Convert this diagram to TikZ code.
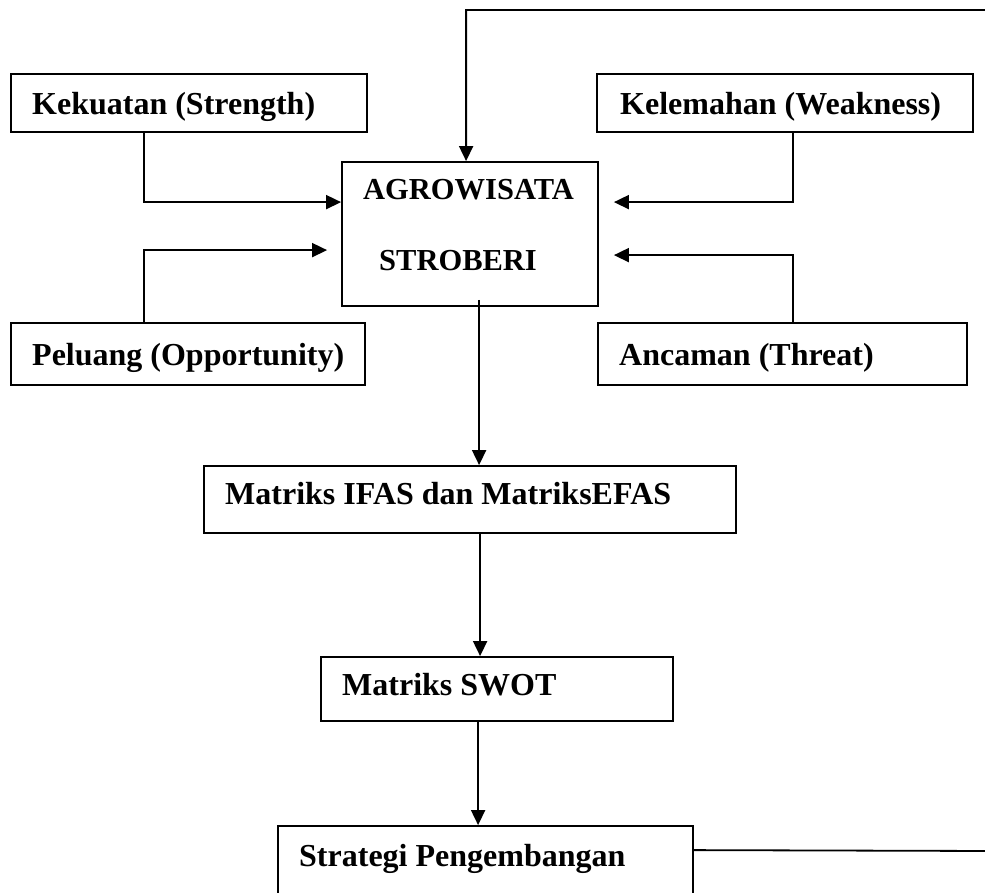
\documentclass[tikz,border=0pt]{standalone}
\usepackage{fontspec}
\setmainfont{Liberation Serif}
\usetikzlibrary{arrows.meta,calc}
\begin{document}
\begin{tikzpicture}[x=1pt,y=-1pt,
  box/.style={draw,line width=1.8pt,inner sep=0,rectangle},
  lbl/.style={anchor=base west,inner sep=0,font=\fontsize{32}{36}\selectfont\bfseries},
  lblsm/.style={anchor=base west,inner sep=0,font=\fontsize{30.5}{34}\selectfont\bfseries},
  conn/.style={line width=1.8pt},
  arr/.style={conn,-{Triangle[length=15pt,width=14pt]}}]
\useasboundingbox (0,0) rectangle (985,892);
% boxes
\node[box,minimum width=356pt,minimum height=58pt] (kek) at (189,103) {};
\node[box,minimum width=376pt,minimum height=58pt] (kel) at (785,103) {};
\node[box,minimum width=256pt,minimum height=144pt] (agro) at (470,234) {};
\node[box,minimum width=354pt,minimum height=62pt] (pel) at (188,354) {};
\node[box,minimum width=369pt,minimum height=62pt] (anc) at (782.5,354) {};
\node[box,minimum width=532pt,minimum height=67pt] (ifas) at (470,499.5) {};
\node[box,minimum width=352pt,minimum height=64pt] (swot) at (497,689) {};
\node[box,minimum width=415pt,minimum height=74pt] (strat) at (485.5,863) {};
% labels
\node[lbl] (tkek) at (32,114) {Kekuatan (Strength)};
\node[lbl] (tkel) at (620,114) {Kelemahan (Weakness)};
\node[lblsm] (tagro1) at (363,199) {AGROWISATA};
\node[lblsm] (tagro2) at (379,270) {STROBERI};
\node[lbl] (tpel) at (32,365) {Peluang (Opportunity)};
\node[lbl] (tanc) at (619,365) {Ancaman (Threat)};
\node[lbl] (tifas) at (225,504) {Matriks IFAS dan MatriksEFAS};
\node[lbl] (tswot) at (342,695) {Matriks SWOT};
\node[lbl] (tstrat) at (299,866) {Strategi Pengembangan};
% connectors
\draw[arr] ($(kek.south west)+(134,0)$) |- ($(agro.north west)+(0,41)$);
\draw[arr] ($(pel.north west)+(134,0)$) |- ($(agro.north west)+(-14,89)$);
\draw[arr] ($(kel.south west)+(197,0)$) |- ($(agro.north east)+(15,41)$);
\draw[arr] ($(anc.north west)+(196,0)$) |- ($(agro.north east)+(15,94)$);
\draw[arr] ($(agro.south west)+(138,-7)$) -- ($(ifas.north west)+(276,0)$);
\draw[arr] ($(ifas.south west)+(277,0)$) -- ($(swot.north west)+(160,0)$);
\draw[arr] ($(swot.south west)+(158,0)$) -- ($(strat.north west)+(201,0)$);
\coordinate (fbA) at (995,851);
\coordinate (fbB) at (995,10);
\draw[arr] ($(strat.north east)+(0,25)$) -- (fbA) -- (fbB) -| ($(agro.north west)+(125,0)$);
\end{tikzpicture}
\end{document}
